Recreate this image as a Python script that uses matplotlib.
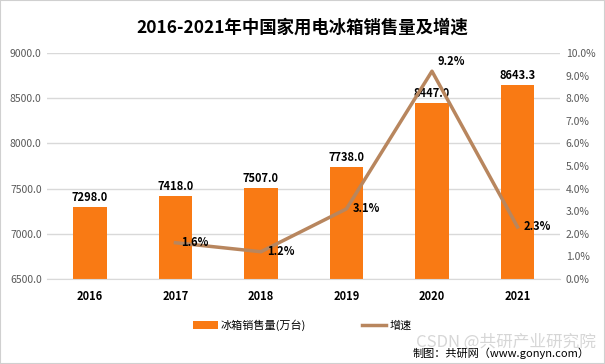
import numpy as np
import matplotlib
matplotlib.use('Agg')
import matplotlib.pyplot as plt
from matplotlib.patches import Rectangle

plt.rcParams['font.family'] = ['Noto Sans CJK SC', 'DejaVu Sans']

years = ['2016', '2017', '2018', '2019', '2020', '2021']
sales = [7298.0, 7418.0, 7507.0, 7738.0, 8447.0, 8643.3]
growth_years = ['2017', '2018', '2019', '2020', '2021']
growth = [1.6, 1.2, 3.1, 9.2, 2.3]

bar_color = '#F97A14'
line_color = '#B8865E'

fig = plt.figure(figsize=(6.05, 3.64), dpi=100)
fig.patches.append(Rectangle((0, 0), 1, 1, transform=fig.transFigure,
                             fill=False, edgecolor='#D0D0D0', linewidth=1.5))
ax = fig.add_axes([0.078, 0.234, 0.848, 0.62])
x = np.arange(len(years))
bars = ax.bar(x, sales, width=0.39, color=bar_color, zorder=2, label='冰箱销售量(万台)')
ax.set_ylim(6500, 9000)
ax.set_xlim(-0.5, len(years) - 0.5)
ax.set_yticks(np.arange(6500, 9001, 500))
ax.set_yticklabels(['%.1f' % v for v in np.arange(6500, 9001, 500)], fontsize=7.5, color='#595959')
ax.set_xticks(x)
ax.set_xticklabels(years, fontsize=8, fontweight='bold')
ax.grid(axis='y', color='#D9D9D9', linewidth=1, zorder=0)
for s in ['top', 'right', 'left']:
    ax.spines[s].set_visible(False)
ax.spines['bottom'].set_color('#D9D9D9')
ax.tick_params(length=0, pad=4)
ax.tick_params(axis='x', pad=8)
for xi, v in zip(x, sales):
    ax.text(xi, v + 35, '%.1f' % v, ha='center', va='bottom', fontsize=8, fontweight='bold')

ax2 = ax.twinx()
gx = [years.index(g) for g in growth_years]
line, = ax2.plot(gx, growth, color=line_color, linewidth=2.5, zorder=3, label='增速')
ax2.set_ylim(0, 10)
ax2.set_yticks(np.arange(0, 10.1, 1))
ax2.set_yticklabels(['%.1f%%' % v for v in np.arange(0, 10.1, 1)], fontsize=7.5, color='#595959')
for s in ['top', 'right', 'left', 'bottom']:
    ax2.spines[s].set_visible(False)
ax2.tick_params(length=0, pad=4)
for xi, v in zip(gx, growth):
    dy = 0.15 if v > 9 else 0
    ax2.text(xi + 0.07, v + dy, '%.1f%%' % v, ha='left', va='center' if dy == 0 else 'bottom',
             fontsize=8, fontweight='bold')

fig.text(0.5, 0.925, '2016-2021年中国家用电冰箱销售量及增速', ha='center', va='center',
         fontsize=12.5, fontweight='bold')
fig.legend([bars, line], ['冰箱销售量(万台)', '增速'], loc='center', bbox_to_anchor=(0.5, 0.107),
           ncol=2, frameon=False, fontsize=8, handlelength=2.2, columnspacing=5, handletextpad=0.3)
fig.text(0.975, 0.03, '制图：共研网（www.gonyn.com）', ha='right', va='center', fontsize=8)
fig.text(0.985, 0.06, 'CSDN @共研产业研究院', ha='right', va='center', fontsize=12,
         color='#BBBBBB', alpha=0.6)

fig.savefig('out.png', dpi=100)
